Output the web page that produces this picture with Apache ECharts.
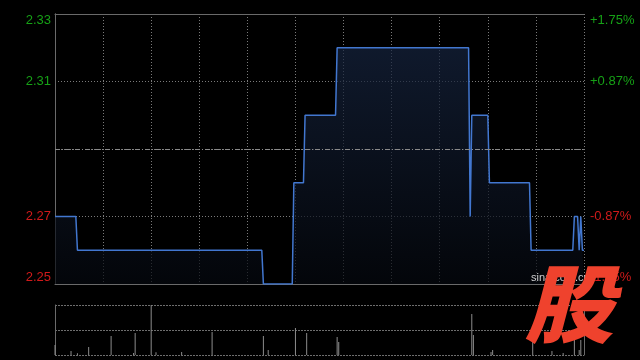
<!DOCTYPE html>
<html>
<head>
<meta charset="utf-8">
<script src="https://cdn.jsdelivr.net/npm/echarts@6/dist/echarts.min.js"></script>
<style>
html,body{margin:0;padding:0;background:#000;}
#chart{width:640px;height:360px;}
</style>
</head>
<body>
<div id="chart"></div>
<script>
// Price breakpoints (minute index from open, 0..330) and prices
const priceMinutes = [0,13,14,129,130,148,149,155,156,175,176,258,259,260,270,271,296,297,323,324,326,327,328,329,330];
const priceValues  = [2.27,2.27,2.26,2.26,2.25,2.25,2.28,2.28,2.30,2.30,2.32,2.32,2.27,2.30,2.30,2.28,2.28,2.26,2.26,2.27,2.27,2.26,2.27,2.26,2.26];
// Volume bars
const volMinutes = [0,10,14,21,35,49,50,60,63,79,98,130,133,150,157,176,177,260,261,272,273,298,310,317,324,327,328];
const volValues  = [10000,4000,1700,8000,19000,2000,22000,50000,2700,3000,23000,19000,5000,27000,22000,18000,13000,41000,20000,3000,5000,13000,4000,2000,15000,5000,15000];
const prevClose = 2.29;
const priceMin = 2.25, priceMax = 2.33, priceInterval = 0.02;

const FONT = '"Liberation Sans Narrow","Liberation Sans",Arial,sans-serif';
const GREEN = '#16a016', RED = '#d01a1a';
const BORDER = '#6a6a6a';

const chart = echarts.init(document.getElementById('chart'), null, {renderer:'canvas'});
const priceData = priceMinutes.map((m,i)=>[m, priceValues[i]]);
const volData = volMinutes.map((m,i)=>[m, volValues[i]]);
const volMax = Math.max(...volValues);

function isMid(v){ return Math.abs(v-prevClose) < 1e-6; }
function colorFor(v){ return v > prevClose + 1e-6 ? GREEN : (v < prevClose - 1e-6 ? RED : '#888'); }

chart.setOption({
  backgroundColor:'#000',
  animation:false,
  grid:[
    {left:55, right:56, top:14, height:270},
    {left:55, right:56, top:305, height:50}
  ],
  xAxis:[
    {type:'value', gridIndex:0, min:0, max:330, interval:30, position:'bottom',
     axisLine:{show:true, lineStyle:{color:BORDER, width:1}}, axisTick:{show:false}, axisLabel:{show:false},
     splitLine:{show:true, lineStyle:{color:'#7a7a7a', type:[1,2], width:1}}},
    {type:'value', gridIndex:0, min:0, max:330, position:'top',
     axisLine:{show:true, lineStyle:{color:BORDER, width:1}}, axisTick:{show:false}, axisLabel:{show:false}, splitLine:{show:false}},
    {type:'value', gridIndex:1, min:0, max:330, interval:30,
     axisLine:{show:false}, axisTick:{show:false}, axisLabel:{show:false}, splitLine:{show:false}}
  ],
  yAxis:[
    {type:'value', gridIndex:0, min:priceMin, max:priceMax, interval:priceInterval, position:'left',
     axisLine:{show:true, lineStyle:{color:BORDER, width:1}}, axisTick:{show:false},
     axisLabel:{margin:4, fontFamily:FONT, fontSize:13,
       verticalAlignMinLabel:'bottom', verticalAlignMaxLabel:'top',
       formatter:v=> isMid(v) ? '' : v.toFixed(2),
       color:v=>colorFor(v)},
     splitLine:{show:true, lineStyle:{color:'#7a7a7a', type:[1,2], width:1}}},
    {type:'value', gridIndex:0, min:priceMin, max:priceMax, interval:priceInterval, position:'right',
     axisLine:{show:true, lineStyle:{color:BORDER, width:1}}, axisTick:{show:false},
     axisLabel:{margin:6, fontFamily:FONT, fontSize:13,
       verticalAlignMinLabel:'bottom', verticalAlignMaxLabel:'top',
       formatter:v=>{ if(isMid(v)) return ''; const p=(v-prevClose)/prevClose*100; return (p>0?'+':'')+p.toFixed(2)+'%'; },
       color:v=>colorFor(v)},
     splitLine:{show:false}},
    {type:'value', gridIndex:1, min:0, max:volMax, interval:volMax/2, position:'left',
     axisLine:{show:true, lineStyle:{color:BORDER, width:1}}, axisTick:{show:false}, axisLabel:{show:false},
     splitLine:{show:true, lineStyle:{color:'#6e6e6e', type:[2,1], width:1}}},
    {type:'value', gridIndex:1, min:0, max:volMax, interval:volMax/2, position:'right',
     axisLine:{show:true, lineStyle:{color:BORDER, width:1}}, axisTick:{show:false}, axisLabel:{show:false},
     splitLine:{show:false}}
  ],
  series:[
    {type:'line', xAxisIndex:0, yAxisIndex:0, data:priceData, symbol:'none',
     lineStyle:{color:'#4277d0', width:1.5},
     areaStyle:{origin:'start', color:new echarts.graphic.LinearGradient(0,0,0,1,[
       {offset:0, color:'#16243f'}, {offset:1, color:'#05080e'}])},
     markLine:{silent:true, symbol:'none', label:{show:false},
       lineStyle:{color:'#8a8a8a', type:[5,2,1,2], width:1},
       data:[{yAxis:prevClose}]}},
    {type:'bar', xAxisIndex:2, yAxisIndex:2, data:volData, barWidth:1,
     itemStyle:{color:'#8c8c8c'}}
  ],
  graphic:[
    {type:'text', left:531, top:272, z:10,
     style:{text:'sina.com.cn', fill:'#cfcfcf', font:'11px "Liberation Sans",Arial,sans-serif'}},
    {type:'text', x:569, y:304, scaleX:1.05, z:20,
     style:{text:'股', fill:'#ef422d', font:'italic 900 85px "Noto Sans CJK SC",sans-serif', align:'center', verticalAlign:'middle'}}
  ]
});
</script>
</body>
</html>
